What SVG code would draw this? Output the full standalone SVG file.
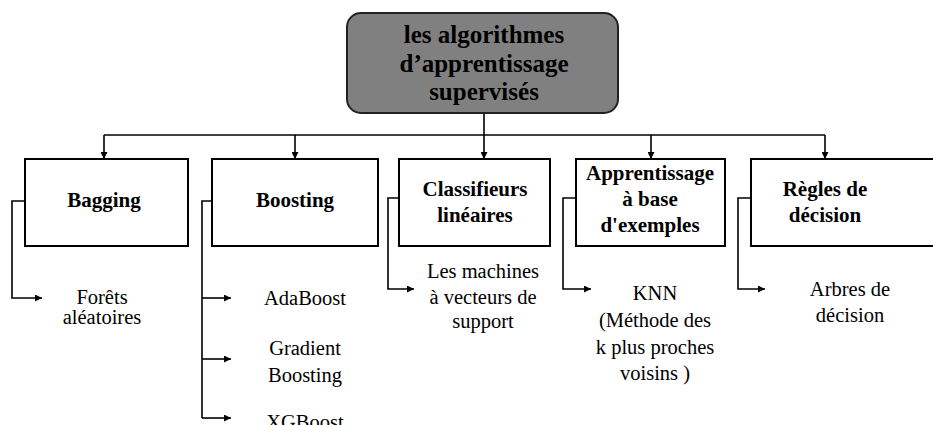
<svg xmlns="http://www.w3.org/2000/svg" width="933" height="425" viewBox="0 0 933 425">
  <defs>
    <marker id="arrow" viewBox="0 0 8 8" refX="8" refY="4" markerWidth="7" markerHeight="7" markerUnits="userSpaceOnUse" orient="auto">
      <path d="M0,0 L8,4 L0,8 Z" fill="#000"/>
    </marker>
  </defs>
  <style>
    .box { fill: #fff; stroke: #000; stroke-width: 2; }
    .root { fill: #808080; stroke: #222; stroke-width: 2; }
    .link { fill: none; stroke: #000; stroke-width: 1.6; }
    .arr { marker-end: url(#arrow); }
    text { font-family: 'Liberation Serif', 'Times New Roman', serif; text-anchor: middle; fill: #000; }
    .title { font-weight: bold; font-size: 25px; }
    .head { font-weight: bold; font-size: 21px; }
    .item { font-size: 20.5px; }
  </style>
  <rect width="933" height="425" fill="#fff"/>

  <g id="connectors">
    <!-- trunk and distribution bar -->
    <path class="link" d="M104,135 H825"/>
    <path class="link arr" d="M104,135 V159"/>
    <path class="link arr" d="M295,135 V159"/>
    <path class="link arr" d="M484,113 V159"/>
    <path class="link arr" d="M651,135 V159"/>
    <path class="link arr" d="M825,135 V159"/>
    <!-- Bagging -->
    <path class="link arr" d="M25,201 H12 V298 H42"/>
    <!-- Boosting -->
    <path class="link" d="M212,201 H202 V418"/>
    <path class="link arr" d="M202,298 H231"/>
    <path class="link arr" d="M202,359 H231"/>
    <path class="link arr" d="M202,418 H231"/>
    <!-- Classifieurs linéaires -->
    <path class="link arr" d="M399,198 H388 V289 H414"/>
    <!-- Apprentissage à base d'exemples -->
    <path class="link arr" d="M576,198 H563 V289 H591"/>
    <!-- Règles de décision -->
    <path class="link arr" d="M751,198 H738 V289 H765"/>
  </g>

  <g id="root">
    <rect class="root" x="347" y="13" width="271" height="100" rx="14"/>
    <text class="title" x="484" y="43">les algorithmes</text>
    <text class="title" x="484" y="72">d’apprentissage</text>
    <text class="title" x="484" y="100">supervisés</text>
  </g>

  <g id="bagging">
    <rect class="box" x="25" y="159" width="163" height="87"/>
    <text class="head" x="104" y="207">Bagging</text>
  </g>
  <g id="boosting">
    <rect class="box" x="212" y="159" width="166" height="87"/>
    <text class="head" x="295" y="207">Boosting</text>
  </g>
  <g id="classifieurs">
    <rect class="box" x="399" y="159" width="151" height="87"/>
    <text class="head" x="475" y="196">Classifieurs</text>
    <text class="head" x="475" y="222">linéaires</text>
  </g>
  <g id="apprentissage">
    <rect class="box" x="576" y="159" width="149" height="87"/>
    <text class="head" x="650" y="180">Apprentissage</text>
    <text class="head" x="650" y="206">à base</text>
    <text class="head" x="650" y="232">d'exemples</text>
  </g>
  <g id="regles">
    <rect class="box" x="751" y="159" width="190" height="87"/>
    <text class="head" x="825" y="196">Règles de</text>
    <text class="head" x="825" y="222">décision</text>
  </g>

  <g id="forets">
    <text class="item" x="102" y="304">Forêts</text>
    <text class="item" x="102" y="324">aléatoires</text>
  </g>
  <g id="adaboost">
    <text class="item" x="305" y="305">AdaBoost</text>
  </g>
  <g id="gradient">
    <text class="item" x="305" y="355">Gradient</text>
    <text class="item" x="305" y="382">Boosting</text>
  </g>
  <g id="xgboost">
    <text class="item" x="305" y="429">XGBoost</text>
  </g>
  <g id="svm">
    <text class="item" x="483" y="278">Les machines</text>
    <text class="item" x="483" y="304">à vecteurs de</text>
    <text class="item" x="483" y="328">support</text>
  </g>
  <g id="knn">
    <text class="item" x="655" y="300">KNN</text>
    <text class="item" x="655" y="327">(Méthode des</text>
    <text class="item" x="655" y="354">k plus proches</text>
    <text class="item" x="655" y="380">voisins )</text>
  </g>
  <g id="arbres">
    <text class="item" x="850" y="296">Arbres de</text>
    <text class="item" x="850" y="322">décision</text>
  </g>
</svg>
